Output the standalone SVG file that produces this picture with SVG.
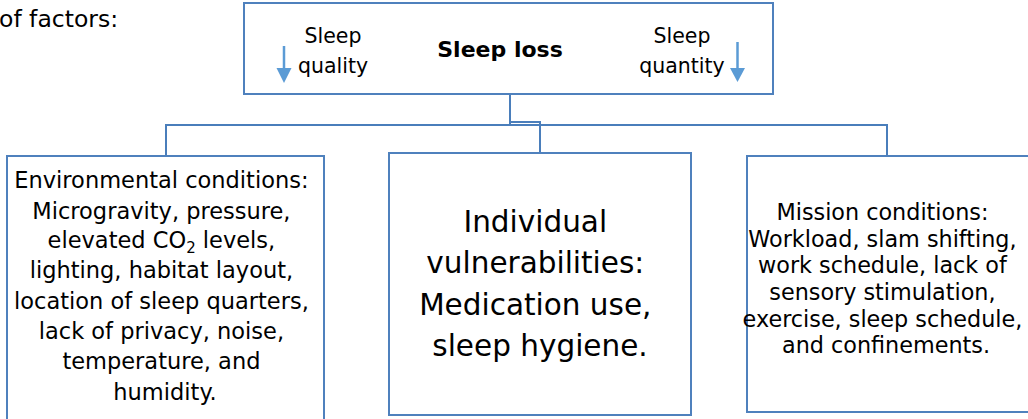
<svg xmlns="http://www.w3.org/2000/svg" width="1028" height="419" viewBox="0 0 1028 419">
<style>
.box{fill:#fff;stroke:#4F81BD;stroke-width:2}
.con{fill:none;stroke:#4A7EBB;stroke-width:2}
.t{font-family:"DejaVu Sans","Liberation Sans",sans-serif;fill:#000;text-anchor:middle}
.arr{stroke:#5B9BD5;stroke-width:2.5}
.ah{fill:#5B9BD5}
</style>
<rect width="1028" height="419" fill="#fff"/>
<text x="-1" y="27" font-family="'DejaVu Sans','Liberation Sans',sans-serif" font-size="23.5">of factors:</text>
<g id="connectors">
<path class="con" d="M510,94 V125 H166 V156"/>
<path class="con" d="M510,125 H887 V156"/>
<path class="con" d="M510,122 H540 V153"/>
</g>
<g id="sleep-loss">
<rect class="box" x="244" y="3" width="529" height="91"/>
<text class="t" x="500" y="57" font-size="22" font-weight="bold">Sleep loss</text>
<text class="t" x="333" y="43" font-size="20.5">Sleep</text>
<text class="t" x="333" y="73" font-size="20.5">quality</text>
<text class="t" x="682" y="43" font-size="20.5">Sleep</text>
<text class="t" x="682" y="73" font-size="20.5">quantity</text>
<line class="arr" x1="284" y1="46" x2="284" y2="70"/>
<polygon class="ah" points="276.5,68 291.5,68 284,83"/>
<line class="arr" x1="737.5" y1="42" x2="737.5" y2="70"/>
<polygon class="ah" points="730,68 745,68 737.5,82"/>
</g>
<g id="environmental">
<rect class="box" x="7" y="156" width="317" height="280"/>
<text class="t" font-size="22.5">
<tspan x="165" y="188">Environmental conditions:</tspan>
<tspan x="165" y="219">Microgravity, pressure,</tspan>
<tspan x="165" y="248">elevated CO<tspan font-size="15" dy="5">2</tspan><tspan dy="-5"> levels,</tspan></tspan>
<tspan x="165" y="278">lighting, habitat layout,</tspan>
<tspan x="165" y="309">location of sleep quarters,</tspan>
<tspan x="165" y="339">lack of privacy, noise,</tspan>
<tspan x="165" y="369">temperature, and</tspan>
<tspan x="165" y="400">humidity.</tspan>
</text>
</g>
<g id="individual">
<rect class="box" x="389" y="153" width="302" height="262"/>
<text class="t" font-size="29.5">
<tspan x="540" y="232">Individual</tspan>
<tspan x="540" y="273">vulnerabilities:</tspan>
<tspan x="540" y="315">Medication use,</tspan>
<tspan x="540" y="356">sleep hygiene.</tspan>
</text>
</g>
<g id="mission">
<rect class="box" x="747" y="156" width="284" height="256"/>
<text class="t" font-size="22.3">
<tspan x="886" y="220">Mission conditions:</tspan>
<tspan x="886" y="247">Workload, slam shifting,</tspan>
<tspan x="886" y="273">work schedule, lack of</tspan>
<tspan x="886" y="300">sensory stimulation,</tspan>
<tspan x="886" y="327">exercise, sleep schedule,</tspan>
<tspan x="886" y="353">and confinements.</tspan>
</text>
</g>
</svg>
